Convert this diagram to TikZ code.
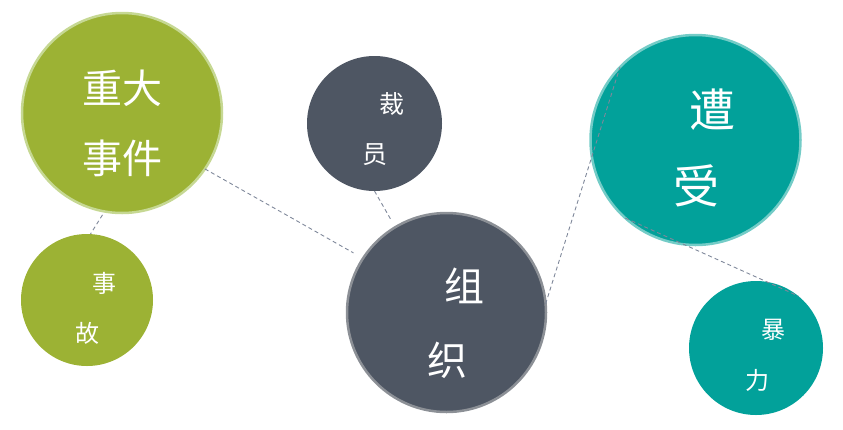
\documentclass[tikz,border=0pt]{standalone}
\usepackage{fontspec}
\newfontfamily\cjk{Noto Sans CJK SC}
\definecolor{grn}{HTML}{9CB234}
\definecolor{grnlt}{HTML}{C6D893}
\definecolor{slate}{HTML}{4E5663}
\definecolor{slatebd}{HTML}{8C9096}
\definecolor{tealc}{HTML}{02A19A}
\definecolor{teallt}{HTML}{74CCC7}
\definecolor{dash}{HTML}{7F889A}
\begin{document}
\begin{tikzpicture}[x=1pt,y=-1pt,
  bub/.style={circle, minimum size=#1, inner sep=0pt, outer sep=0pt},
  conn/.style={draw=dash, line width=0.9pt, dash pattern=on 4pt off 3pt},
  txt/.style={text=white, inner sep=0pt, font=\cjk\fontsize{#1}{#1}\selectfont}]
\useasboundingbox (0,0) rectangle (843,429);
% bubbles
\node[bub=200, fill=grn, draw=grnlt, line width=2.5pt] (zd) at (122,113) {};
\node[bub=132, fill=grn] (sg) at (87,300) {};
\node[bub=135, fill=slate] (cy) at (374.5,123.5) {};
\node[bub=199, fill=slate, draw=slatebd, line width=2.5pt] (zz) at (446.5,312.5) {};
\node[bub=210, fill=tealc, draw=teallt, line width=2.5pt] (zs) at (695.5,140) {};
\node[bub=134, fill=tealc] (bl) at (756,348) {};
% connectors
\draw[conn, shorten >=11pt] (zd.-34.5) -- (zz.147);
\draw[conn, shorten <=4pt] (zd.-100) -- (sg.87);
\draw[conn, shorten >=9pt] (cy.-90) -- (zz.121.4);
\draw[conn] (zz.5) -- (zs.136);
\draw[conn] (zs.228.3) -- (bl.51.2);
% texts
\node[txt=40] (t1) at (122,88) {重大};
\node[txt=40] (t2) at (122,158) {事件};
\node[txt=24] (t3) at (104,283) {事};
\node[txt=24] (t4) at (87,333) {故};
\node[txt=25] (t5) at (392,104) {裁};
\node[txt=25] (t6) at (375,155) {员};
\node[txt=40] (t7) at (464,286) {组};
\node[txt=40] (t8) at (447,360) {织};
\node[txt=46] (t9) at (712,110) {遭};
\node[txt=46] (t10) at (696,186) {受};
\node[txt=24] (t11) at (773,330) {暴};
\node[txt=24] (t12) at (757,380) {力};
\end{tikzpicture}
\end{document}
